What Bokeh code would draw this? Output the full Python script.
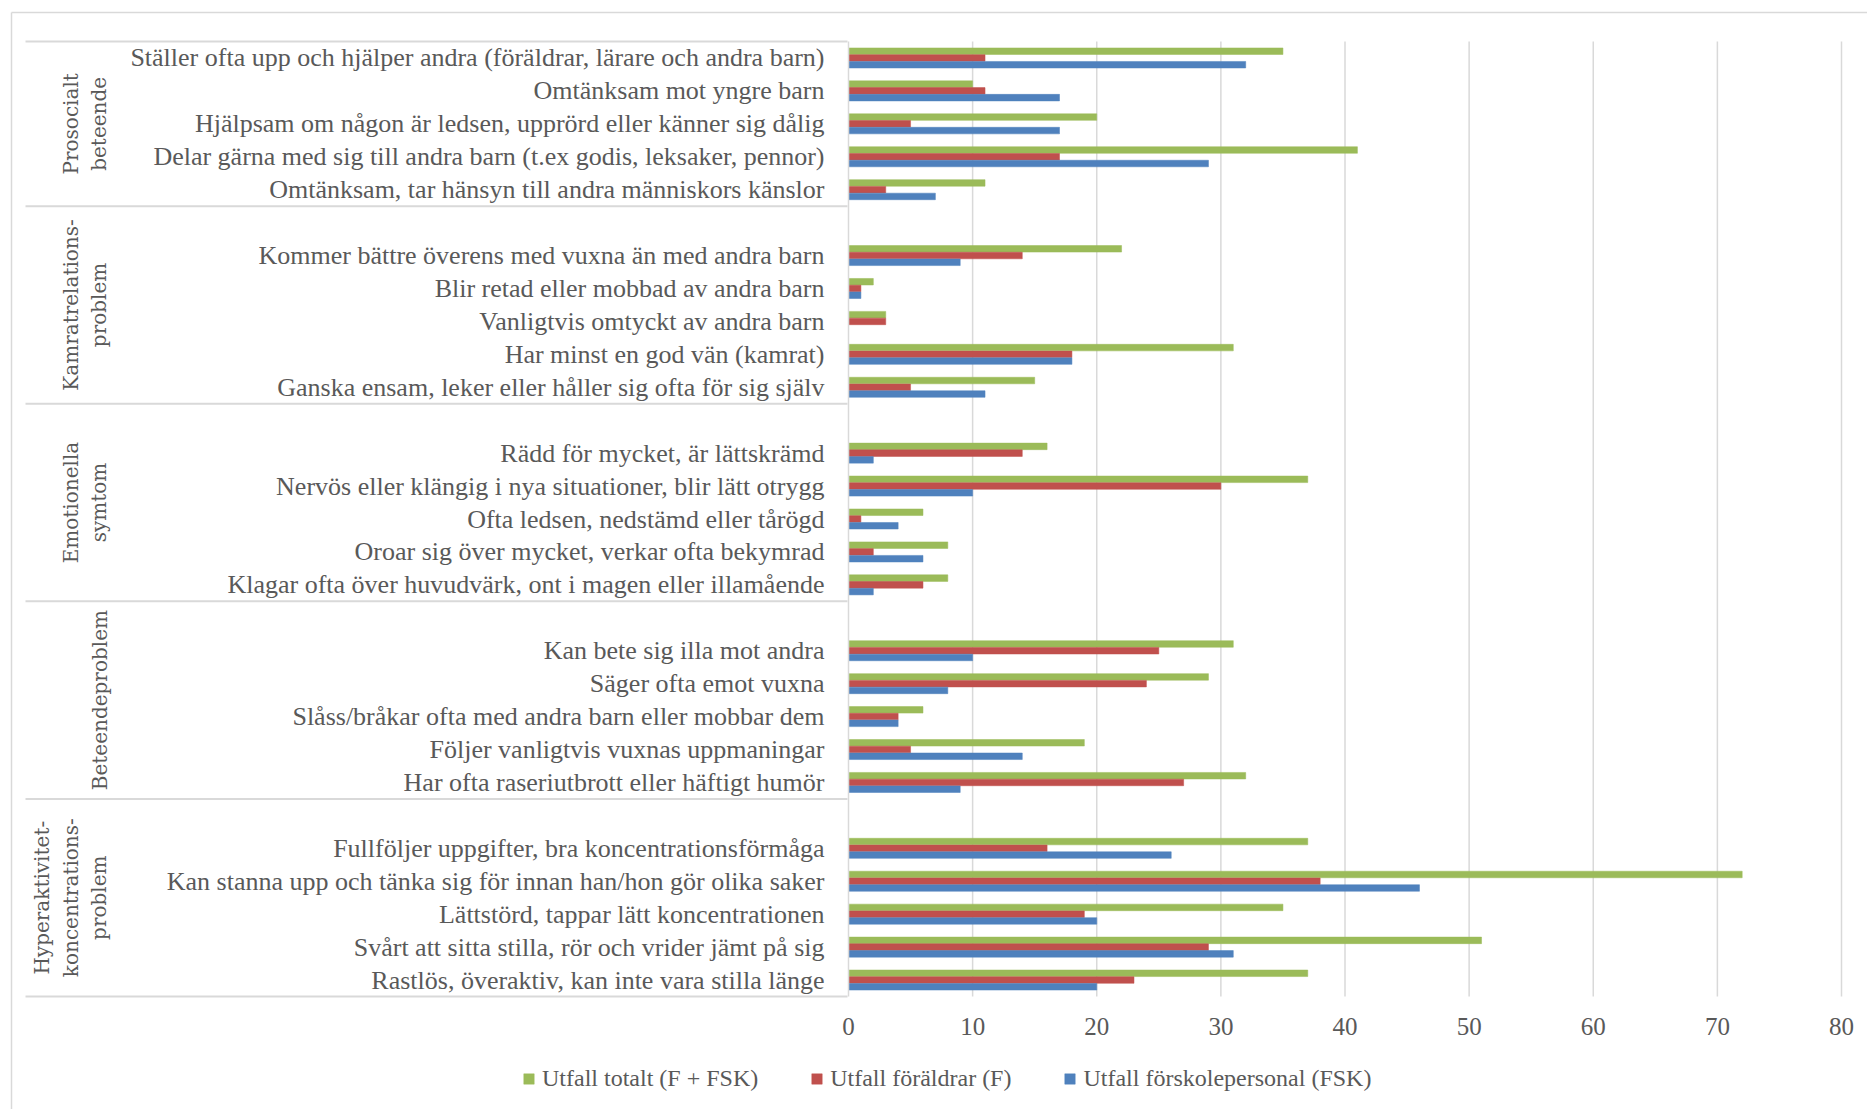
import math
from bokeh.plotting import figure
from bokeh.models import Range1d, FixedTicker, Legend, LegendItem, Label
from bokeh.embed import file_html
from bokeh.resources import INLINE

# ---------------- data ----------------
groups = [
    "Prosocialt\nbeteende",
    "Kamratrelations-\nproblem",
    "Emotionella\nsymtom",
    "Beteendeproblem",
    "Hyperaktivitet-\nkoncentrations-\nproblem",
]
categories = [
    "Ställer ofta upp och hjälper andra (föräldrar, lärare och andra barn)",
    "Omtänksam mot yngre barn",
    "Hjälpsam om någon är ledsen, upprörd eller känner sig dålig",
    "Delar gärna med sig till andra barn (t.ex godis, leksaker, pennor)",
    "Omtänksam, tar hänsyn till andra människors känslor",
    "Kommer bättre överens med vuxna än med andra barn",
    "Blir retad eller mobbad av andra barn",
    "Vanligtvis omtyckt av andra barn",
    "Har minst en god vän (kamrat)",
    "Ganska ensam, leker eller håller sig ofta för sig själv",
    "Rädd för mycket, är lättskrämd",
    "Nervös eller klängig i nya situationer, blir lätt otrygg",
    "Ofta ledsen, nedstämd eller tårögd",
    "Oroar sig över mycket, verkar ofta bekymrad",
    "Klagar ofta över huvudvärk, ont i magen eller illamående",
    "Kan bete sig illa mot andra",
    "Säger ofta emot vuxna",
    "Slåss/bråkar ofta med andra barn eller mobbar dem",
    "Följer vanligtvis vuxnas uppmaningar",
    "Har ofta raseriutbrott eller häftigt humör",
    "Fullföljer uppgifter, bra koncentrationsförmåga",
    "Kan stanna upp och tänka sig för innan han/hon gör olika saker",
    "Lättstörd, tappar lätt koncentrationen",
    "Svårt att sitta stilla, rör och vrider jämt på sig",
    "Rastlös, överaktiv, kan inte vara stilla länge",
]
category_group = [0]*5 + [1]*5 + [2]*5 + [3]*5 + [4]*5

series_names = ["Utfall totalt (F + FSK)", "Utfall föräldrar (F)", "Utfall förskolepersonal (FSK)"]
totalt = [35, 10, 20, 41, 11,
          22, 2, 3, 31, 15,
          16, 37, 6, 8, 8,
          31, 29, 6, 19, 32,
          37, 72, 35, 51, 37]
foraldrar = [11, 11, 5, 17, 3,
             14, 1, 3, 18, 5,
             14, 30, 1, 2, 6,
             25, 24, 4, 5, 27,
             16, 38, 19, 29, 23]
forskolepersonal = [32, 17, 17, 29, 7,
                    9, 1, 0, 18, 11,
                    2, 10, 4, 6, 2,
                    10, 8, 4, 14, 9,
                    26, 46, 20, 31, 20]
x_ticks = [0, 10, 20, 30, 40, 50, 60, 70, 80]
colors = ["#9BBB59", "#C0504D", "#4F81BD"]

# ---------------- layout helpers ----------------
W, H = 1867, 1109
PL, PR, PT, PB = 848, 1841, 41, 996        # plot-area edges in px
n_rows = 29                                 # 25 categories + 4 spacer rows

# row of each category: group 0 -> 0..4, group g -> 6g..6g+4 (spacer row 6g-1)
rows = []
count = {}
for g in category_group:
    k = count.get(g, 0)
    count[g] = k + 1
    rows.append(6 * g + k)

px_per_x = (PR - PL) / (x_ticks[-1] - x_ticks[0])
px_per_y = (PB - PT) / n_rows
def sx(px):
    return x_ticks[0] + (px - PL) / px_per_x
def sy(py):
    return -0.5 + (py - PT) / px_per_y

xr = Range1d(sx(0), sx(W))
yr = Range1d(sy(H), sy(0))

TEXT = "#595959"
GRID = "#D9D9D9"
FONT = "Liberation Serif"

p = figure(width=W, height=H, x_range=xr, y_range=yr,
           output_backend="svg", toolbar_location=None, min_border=0)
p.outline_line_color = None
p.background_fill_color = "white"
p.border_fill_color = "white"

y_top, y_bot = -0.5, n_rows - 0.5

# outer chart border (continues past right / bottom edge)
p.segment(x0=[sx(11), sx(11)], y0=[sy(12), sy(12)], x1=[sx(11), sx(W + 20)],
          y1=[sy(H + 20), sy(12)], line_color=GRID, line_width=1.5)

# vertical gridlines inside the plot area
p.segment(x0=x_ticks[1:], x1=x_ticks[1:], y0=[y_top] * (len(x_ticks) - 1),
          y1=[y_bot] * (len(x_ticks) - 1), line_color=GRID, line_width=1.5)

# group separators
bounds = [y_top] + [6 * g - 1.5 for g in range(1, len(groups))] + [y_bot]
p.segment(x0=[sx(25)] * len(bounds), x1=[sx(PL - 1)] * len(bounds), y0=bounds, y1=bounds,
          line_color=GRID, line_width=2)

# bars
bh = 0.205
renderers = []
for k, (vals, col) in enumerate(zip([totalt, foraldrar, forskolepersonal], colors)):
    ys = [r + (k - 1) * bh for r in rows]
    rnd = p.hbar(y=ys, left=0, right=vals, height=bh * 0.97, fill_color=col,
                 line_color=col, line_width=0.5)
    renderers.append(rnd)

# axes placed at the plot-area edges
p.xaxis.fixed_location = y_bot
p.xaxis.ticker = FixedTicker(ticks=x_ticks)
p.xaxis.axis_line_color = None
p.xaxis.major_tick_line_color = None
p.xaxis.minor_tick_line_color = None
p.xaxis.major_label_standoff = 15
p.xaxis.major_label_text_font = FONT
p.xaxis.major_label_text_font_size = "25px"
p.xaxis.major_label_text_color = TEXT

p.yaxis.fixed_location = x_ticks[0]
p.yaxis.bounds = (y_top, y_bot)
p.yaxis.ticker = FixedTicker(ticks=rows)
p.yaxis.major_label_overrides = {r: c for r, c in zip(rows, categories)}
p.yaxis.axis_line_color = GRID
p.yaxis.axis_line_width = 1.5
p.yaxis.major_tick_line_color = None
p.yaxis.minor_tick_line_color = None
p.yaxis.major_label_standoff = 18
p.yaxis.major_label_text_font = FONT
p.yaxis.major_label_text_font_size = "26px"
p.yaxis.major_label_text_color = TEXT

p.grid.visible = False

# group labels (rotated)
for g, name in enumerate(groups):
    c = (bounds[g] + bounds[g + 1]) / 2
    p.add_layout(Label(x=sx(111), y=c, text=name, angle=math.pi / 2,
                       text_align="center", text_baseline="bottom",
                       text_font="DejaVu Serif", text_font_size="20px",
                       text_color=TEXT, text_line_height=1.2))

legend = Legend(items=[LegendItem(label=n, renderers=[r]) for n, r in zip(series_names, renderers)],
                orientation="horizontal", location=(522, H - 1092),
                glyph_width=13, glyph_height=13, label_standoff=7, spacing=52,
                padding=0, margin=0, border_line_color=None, background_fill_alpha=0,
                label_text_font=FONT, label_text_font_size="24px", label_text_color=TEXT)
p.add_layout(legend)

open("out.html", "w").write(file_html(p, INLINE))
